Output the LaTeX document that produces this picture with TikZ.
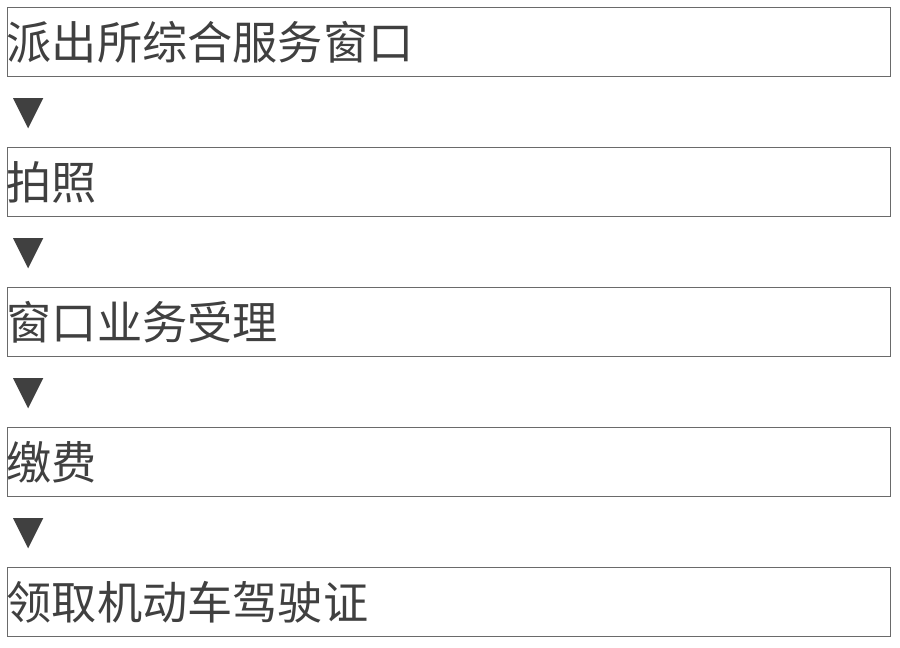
\documentclass[tikz,border=0pt]{standalone}
\usepackage{fontspec}
\setmainfont{Noto Sans CJK SC}
\definecolor{boxline}{HTML}{6A6A6A}
\definecolor{txt}{HTML}{404040}
\tikzset{
  stepbox/.style={draw=boxline, line width=1.2pt, minimum width=883.5pt, minimum height=69.5pt, inner sep=0pt, anchor=north west},
  steptext/.style={text=txt, font=\fontsize{45.2}{50}\selectfont, inner sep=0pt, anchor=base west},
  tri/.style={fill=txt}
}
\begin{document}
\begin{tikzpicture}[x=1pt,y=-1pt]
\useasboundingbox (0,0) rectangle (900,648);
\foreach \i/\t in {0/派出所综合服务窗口,1/拍照,2/窗口业务受理,3/缴费,4/领取机动车驾驶证}{
  \node[stepbox] (b\i) at (6.5,{6.5+140*\i}) {};
  \node[steptext] (t\i) at (6.5,{59.5+140*\i}) {\t};
}
\foreach \i in {0,1,2,3}{
  \fill[tri] (13,{98+140*\i}) -- (43.3,{98+140*\i}) -- (28.1,{128.3+140*\i}) -- cycle;
}
\end{tikzpicture}
\end{document}
